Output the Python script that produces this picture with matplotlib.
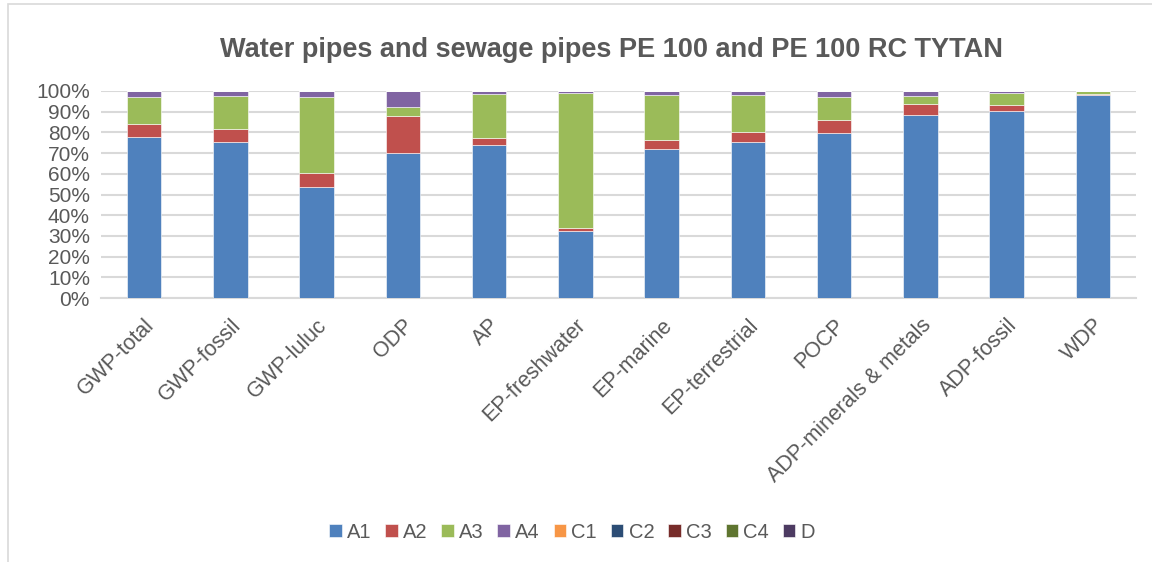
import matplotlib
matplotlib.use("Agg")
import matplotlib.pyplot as plt
from matplotlib.patches import Rectangle
import numpy as np

plt.rcParams["font.family"] = ["Liberation Sans", "DejaVu Sans"]

categories = ["GWP-total", "GWP-fossil", "GWP-luluc", "ODP", "AP", "EP-freshwater",
              "EP-marine", "EP-terrestrial", "POCP", "ADP-minerals & metals",
              "ADP-fossil", "WDP"]

# shares in %
a1 = [77.9, 75.6, 53.7, 70.0, 73.9, 32.6, 71.8, 75.3, 79.8, 88.5, 90.5, 97.9]
a2 = [6.3, 6.0, 6.8, 17.7, 3.5, 1.3, 4.5, 5.0, 6.3, 5.4, 2.7, 0.6]
a3 = [12.9, 16.0, 36.6, 4.6, 21.1, 65.3, 21.6, 17.6, 11.0, 3.8, 5.8, 1.3]
a4 = [2.9, 2.4, 2.9, 7.7, 1.5, 0.8, 2.1, 2.1, 2.9, 2.3, 1.0, 0.2]
c1 = [0.0] * 12
c2 = [0.0] * 12
c3 = [0.0] * 12
c4 = [0.0] * 12
d = [0.0] * 12

series = [("A1", a1), ("A2", a2), ("A3", a3), ("A4", a4), ("C1", c1),
          ("C2", c2), ("C3", c3), ("C4", c4), ("D", d)]
colors = ["#4f81bd", "#c0504d", "#9bbb59", "#8064a2", "#f79646",
          "#2c4d75", "#772c2a", "#5f7530", "#4d3b62"]

text_color = "#595959"

fig = plt.figure(figsize=(11.52, 5.62), dpi=100)
ax = fig.add_axes([101 / 1152, 1 - 298 / 562, (1136 - 101) / 1152, (298 - 91) / 562])

x = np.arange(len(categories))
bottom = np.zeros(len(categories))
for (name, vals), col in zip(series, colors):
    vals = np.array(vals)
    ax.bar(x, vals, 0.4, bottom=bottom, color=col, label=name,
           edgecolor="white", linewidth=0.4, zorder=3)
    bottom += vals

ax.set_xlim(-0.5, len(categories) - 0.5)
ax.set_ylim(0, 100)
ax.set_yticks(np.arange(0, 101, 10))
ax.set_yticklabels([f"{v}%" for v in range(0, 101, 10)])
ax.set_xticks(x)
ax.set_xticklabels(categories, rotation=45, ha="right", rotation_mode="anchor")
ax.tick_params(axis="both", length=0, labelsize=15, colors=text_color)
ax.tick_params(axis="x", labelsize=15.5, pad=12)
ax.tick_params(axis="y", pad=8)

ax.grid(axis="y", color="#d9d9d9", linewidth=1.5, zorder=0)
for s in ["top", "right", "left"]:
    ax.spines[s].set_visible(False)
ax.spines["bottom"].set_color("#d9d9d9")
ax.spines["bottom"].set_linewidth(1.5)

fig.text(612 / 1152, 1 - 50 / 562, "Water pipes and sewage pipes PE 100 and PE 100 RC TYTAN",
         ha="center", va="center", fontsize=19.5, fontweight="bold", color=text_color)

fig.legend(loc="center", bbox_to_anchor=(572 / 1152, 1 - 532 / 562), ncol=9,
           frameon=False, fontsize=14.5, labelcolor=text_color,
           handlelength=0.62, handleheight=0.62, handletextpad=0.25, columnspacing=0.7)

# chart area border
fig.patches.append(Rectangle((8 / 1152, -0.05), 1.1, 1 - 4 / 562 + 0.05,
                             transform=fig.transFigure, fill=False,
                             edgecolor="#d9d9d9", linewidth=1.2))

fig.savefig("out.png", dpi=100)
